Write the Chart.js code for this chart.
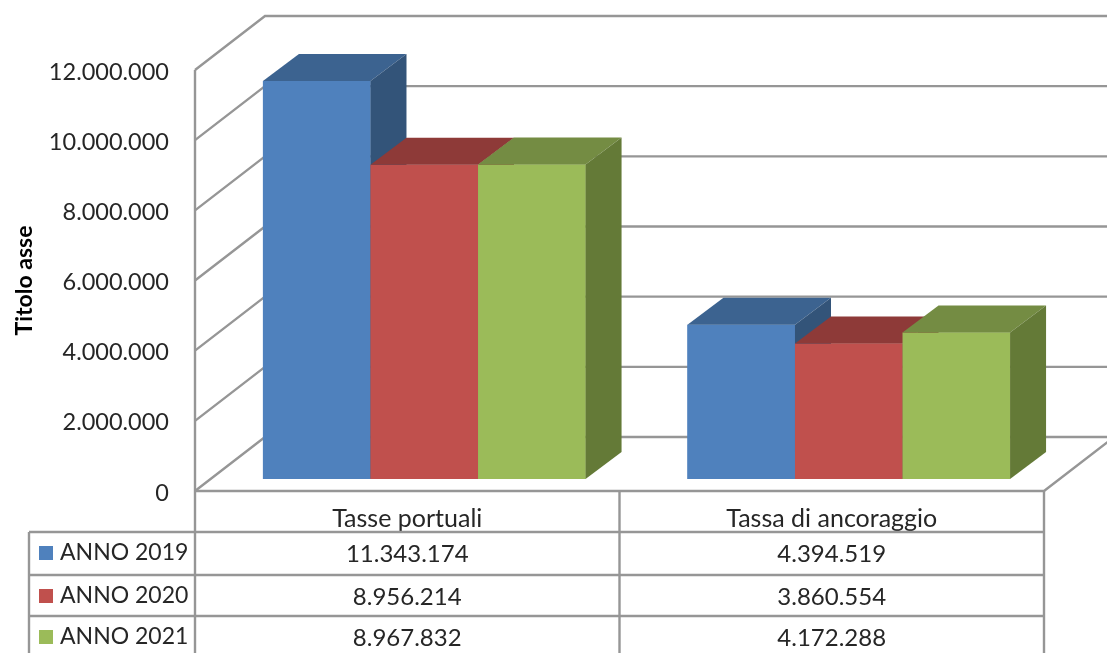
<!DOCTYPE html>
<html>
<head>
<meta charset="utf-8">
<style>
    html, body { margin: 0; padding: 0; background: #ffffff; overflow: hidden; }
    canvas { display: block; }
</style>
<script src="https://cdn.jsdelivr.net/npm/chart.js@4"></script>
</head>
<body>
<canvas id="mychart" width="1107" height="653"></canvas>
<script>
const categories = ['Tasse portuali', 'Tassa di ancoraggio'];
const seriesNames = ['ANNO 2019', 'ANNO 2020', 'ANNO 2021'];
const anno2019 = [11343174, 4394519];
const anno2020 = [8956214, 3860554];
const anno2021 = [8967832, 4172288];
const seriesValues = [anno2019, anno2020, anno2021];
const frontColors = ['#4F81BD', '#C0504D', '#9BBB59'];
const topColors = ['#3C6390', '#8E3A38', '#748C43'];
const sideColors = ['#335479', '#7A302E', '#647A37'];

const lineColor = '#969696';
const textColor = '#262626';
const fontFamily = 'Lato, sans-serif';

// depth of the walls and of the bars, in pixels
const wallDepth = { x: 70, y: -54 };
const barShift = { x: 17, y: -12 };
const barDepth = { x: 36, y: -27 };

// rows of the table under the chart
const tableLeft = 29;
const rowLines = [532, 575, 616];
const pageBottom = 653;

const formatNumber = (value) => String(value).replace(/\B(?=(\d{3})+$)/g, '.');

const walls = {
    id: 'walls',
    beforeDatasetsDraw(chart) {
        const { ctx, chartArea, scales } = chart;
        ctx.save();
        ctx.strokeStyle = lineColor;
        ctx.lineWidth = 2.4;
        scales.y.ticks.forEach((tick) => {
            const y = scales.y.getPixelForValue(tick.value);
            ctx.beginPath();
            ctx.moveTo(chartArea.left, y);
            ctx.lineTo(chartArea.left + wallDepth.x, y + wallDepth.y);
            ctx.lineTo(chart.width, y + wallDepth.y);
            ctx.stroke();
        });
        // floor edges
        ctx.beginPath();
        ctx.moveTo(chartArea.left, chartArea.bottom);
        ctx.lineTo(chartArea.right, chartArea.bottom);
        ctx.lineTo(chartArea.right + wallDepth.x, chartArea.bottom + wallDepth.y);
        ctx.stroke();
        ctx.restore();

        // bars are moved back a little from the front of the floor
        ctx.save();
        ctx.translate(barShift.x, barShift.y);
    },
    afterDatasetsDraw(chart) {
        const { ctx } = chart;
        const metas = seriesValues.map((values, i) => chart.getDatasetMeta(i));

        // left to right, so each bar covers the side of the previous one
        categories.forEach((category, catIdx) => {
            metas.forEach((meta, i) => {
                const bar = meta.data[catIdx];
                const left = bar.x - bar.width / 2;
                const right = bar.x + bar.width / 2;
                bar.draw(ctx);

                ctx.fillStyle = topColors[i];
                ctx.beginPath();
                ctx.moveTo(left, bar.y);
                ctx.lineTo(left + barDepth.x, bar.y + barDepth.y);
                ctx.lineTo(right + barDepth.x, bar.y + barDepth.y);
                ctx.lineTo(right, bar.y);
                ctx.closePath();
                ctx.fill();

                ctx.fillStyle = sideColors[i];
                ctx.beginPath();
                ctx.moveTo(right, bar.y);
                ctx.lineTo(right + barDepth.x, bar.y + barDepth.y);
                ctx.lineTo(right + barDepth.x, bar.base + barDepth.y);
                ctx.lineTo(right, bar.base);
                ctx.closePath();
                ctx.fill();
            });
        });
        ctx.restore();
    }
};

// tick labels sit a bit lower than the axis would put them
const yTickLabels = {
    id: 'yTickLabels',
    afterDraw(chart) {
        const { ctx, scales } = chart;
        ctx.save();
        ctx.font = `23.5px ${fontFamily}`;
        ctx.fillStyle = textColor;
        ctx.textAlign = 'right';
        ctx.textBaseline = 'middle';
        scales.y.ticks.forEach((tick) => {
            ctx.fillText(tick.label, 169, scales.y.getPixelForValue(tick.value) + 2);
        });
        ctx.restore();
    }
};

const dataTable = {
    id: 'dataTable',
    afterDraw(chart) {
        const { ctx, chartArea, scales } = chart;
        const middle = (chartArea.left + chartArea.right) / 2;

        ctx.save();
        ctx.strokeStyle = lineColor;
        ctx.lineWidth = 2.4;

        [chartArea.left, middle, chartArea.right].forEach((x, idx) => {
            // the axis line continues up to the top of the left wall
            const top = idx === 0 ? chartArea.top : chartArea.bottom;
            ctx.beginPath();
            ctx.moveTo(x, top);
            ctx.lineTo(x, pageBottom);
            ctx.stroke();
        });
        ctx.beginPath();
        ctx.moveTo(tableLeft, rowLines[0]);
        ctx.lineTo(tableLeft, pageBottom);
        ctx.stroke();
        rowLines.forEach((y) => {
            ctx.beginPath();
            ctx.moveTo(tableLeft, y);
            ctx.lineTo(chartArea.right, y);
            ctx.stroke();
        });

        ctx.textBaseline = 'middle';
        seriesNames.forEach((name, i) => {
            const rowMiddle = rowLines[i] + 21;
            ctx.fillStyle = frontColors[i];
            ctx.fillRect(39, rowMiddle - 7, 14, 14);
            ctx.fillStyle = textColor;
            ctx.textAlign = 'left';
            ctx.font = `23px ${fontFamily}`;
            ctx.fillText(name, 60, rowMiddle);
            ctx.textAlign = 'center';
            ctx.font = `24px ${fontFamily}`;
            categories.forEach((category, catIdx) => {
                const x = scales.x.getPixelForValue(catIdx);
                ctx.fillText(formatNumber(seriesValues[i][catIdx]), x, rowMiddle + 1);
            });
        });
        ctx.restore();
    }
};

new Chart(document.getElementById('mychart'), {
    type: 'bar',
    plugins: [walls, yTickLabels, dataTable],
    data: {
        labels: categories,
        datasets: seriesNames.map((name, i) => ({
            label: name,
            data: seriesValues[i],
            backgroundColor: frontColors[i],
            borderWidth: 0,
            clip: false,
            categoryPercentage: 0.76,
            barPercentage: 1
        }))
    },
    options: {
        responsive: false,
        animation: false,
        layout: { padding: { top: 70, right: 63, left: 0, bottom: 0 } },
        plugins: {
            legend: { display: false },
            tooltip: { enabled: false }
        },
        scales: {
            x: {
                grid: { display: false },
                border: { display: false },
                ticks: {
                    color: textColor,
                    padding: 5,
                    maxRotation: 0,
                    font: { family: fontFamily, size: 25 }
                },
                afterFit(scale) { scale.height = 162; }
            },
            y: {
                min: 0,
                max: 12000000,
                grid: { display: false },
                border: { display: false },
                title: {
                    display: true,
                    text: 'Titolo asse',
                    color: '#000000',
                    padding: { top: 11, bottom: 0 },
                    font: { family: fontFamily, size: 23, weight: 'bold' }
                },
                ticks: {
                    display: false,
                    stepSize: 2000000,
                    callback: (value) => formatNumber(value)
                },
                afterFit(scale) { scale.width = 195; }
            }
        }
    }
});
</script>
</body>
</html>
